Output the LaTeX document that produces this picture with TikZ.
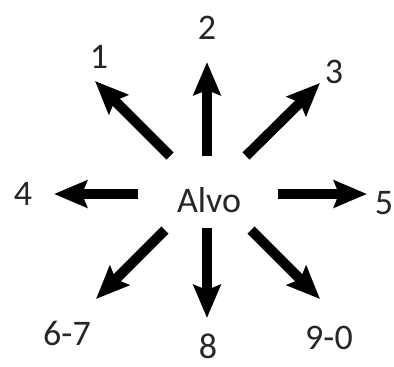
\documentclass[tikz,border=0pt]{standalone}
\usepackage{fontspec}
\setmainfont{Carlito}
\usetikzlibrary{arrows.meta}
\definecolor{labelGray}{HTML}{262626}

\begin{document}
\begin{tikzpicture}[x=1pt,y=-1pt,
  lbl/.style={text=labelGray,font=\fontsize{36}{40}\selectfont,inner sep=0pt},
  ray/.style={-{Stealth[length=33pt,width=27pt,inset=5pt]},line width=10pt,black}]
  \useasboundingbox (0,0) rectangle (394,367);
  \node[lbl] (alvo) at (209,200) {Alvo};
  \node[lbl] (n1) at (99,57) {1};
  \node[lbl] (n2) at (207,28) {2};
  \node[lbl] (n3) at (334,72) {3};
  \node[lbl] (n4) at (23,194) {4};
  \node[lbl] (n5) at (384,203) {5};
  \node[lbl] (n67) at (67,333) {6-7};
  \node[lbl] (n8) at (208,346) {8};
  \node[lbl] (n90) at (329,338) {9-0};

  % start and tip of each arrow
  \coordinate (s1) at (170,156); \coordinate (t1) at (95,81);
  \coordinate (s2) at (207,156); \coordinate (t2) at (207,62);
  \coordinate (s3) at (246,156); \coordinate (t3) at (320,83);
  \coordinate (s4) at (138,194); \coordinate (t4) at (54,194);
  \coordinate (s5) at (278,194); \coordinate (t5) at (367,194);
  \coordinate (s67) at (165,230); \coordinate (t67) at (96,299);
  \coordinate (s8) at (207,228); \coordinate (t8) at (207,318);
  \coordinate (s90) at (251,230); \coordinate (t90) at (320,299);

  \foreach \k in {1,2,3,4,5,67,8,90}
    \draw[ray] (s\k) -- (t\k);
\end{tikzpicture}
\end{document}
